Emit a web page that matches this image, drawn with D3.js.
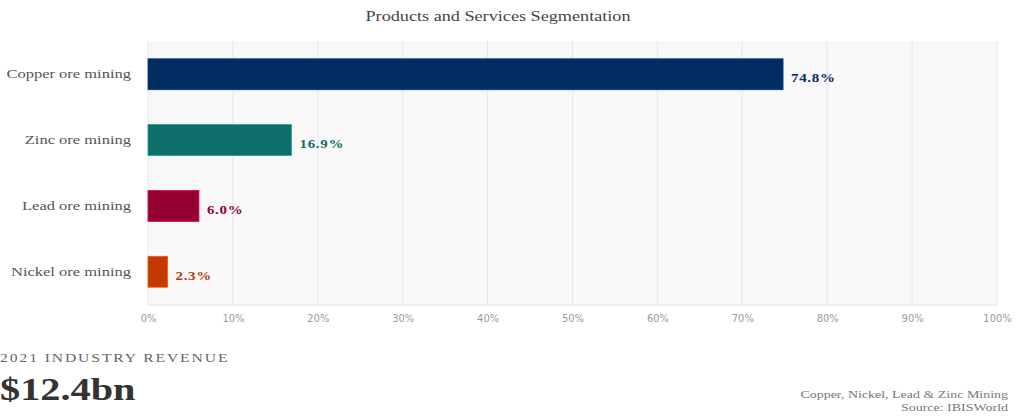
<!DOCTYPE html>
<html lang="en">
<head>
    <meta charset="UTF-8">
    <script src="https://cdn.jsdelivr.net/npm/d3@7"></script>
    <title>Products and Services Segmentation</title>
    <style>
        body { margin: 0; background: #ffffff; }
        svg { display: block; font-family: "Liberation Serif", "DejaVu Serif", serif; }
    </style>
</head>
<body>
<svg width="1016" height="417"></svg>
<script>
    const WIDTH = 1016;
    const HEIGHT = 417;
    const PLOT_LEFT = 148;
    const PLOT_RIGHT = 997;
    const PLOT_TOP = 41;
    const PLOT_BOTTOM = 305;
    const STRETCH = 1.27; // the source text is drawn horizontally wide

    const categories = ["Copper ore mining", "Zinc ore mining", "Lead ore mining", "Nickel ore mining"];
    const shares = [74.8, 16.9, 6.0, 2.3];
    const barColors = ["#002c61", "#0e6e6a", "#960030", "#c13a02"];
    const tickValues = [0, 10, 20, 30, 40, 50, 60, 70, 80, 90, 100];

    const data = categories.map((c, i) => ({ name: c, value: shares[i], color: barColors[i] }));

    const svg = d3.select("svg");

    // text placed at (tx, ty) and stretched sideways from its anchor
    function wideText(parent, tx, ty, sx) {
        return parent.append("text")
            .attr("transform", `translate(${tx}, ${ty}) scale(${sx}, 1)`);
    }

    const x = d3.scaleLinear()
        .domain([0, 100])
        .range([PLOT_LEFT, PLOT_RIGHT]);

    const y = d3.scaleBand()
        .domain(categories)
        .range([PLOT_TOP, PLOT_BOTTOM])
        .paddingInner(0.53)
        .paddingOuter(0.27);

    // title
    wideText(svg, 498, 21, 1.3)
        .attr("text-anchor", "middle")
        .style("font-size", "14px")
        .style("fill", "#444")
        .text("Products and Services Segmentation");

    // plot background
    svg.append("rect")
        .attr("x", PLOT_LEFT)
        .attr("y", PLOT_TOP)
        .attr("width", PLOT_RIGHT - PLOT_LEFT)
        .attr("height", PLOT_BOTTOM - PLOT_TOP)
        .style("fill", "#f8f8f9");

    // gridlines
    svg.append("g")
        .selectAll("line")
        .data(tickValues)
        .enter()
        .append("line")
        .attr("x1", d => x(d))
        .attr("x2", d => x(d))
        .attr("y1", PLOT_TOP)
        .attr("y2", PLOT_BOTTOM)
        .style("stroke", "#e3e6ef")
        .style("stroke-width", 1);

    svg.append("line")
        .attr("x1", PLOT_LEFT)
        .attr("x2", PLOT_RIGHT)
        .attr("y1", PLOT_BOTTOM)
        .attr("y2", PLOT_BOTTOM)
        .style("stroke", "#e3e6ef");

    // x axis labels
    const axisBottom = d3.axisBottom(x)
        .tickValues(tickValues)
        .tickFormat(d => d + "%")
        .tickSize(0)
        .tickPadding(9);

    const xAxis = svg.append("g")
        .attr("class", "axis bottom")
        .attr("transform", `translate(0, ${PLOT_BOTTOM})`)
        .call(axisBottom);
    xAxis.select(".domain").remove();
    xAxis.selectAll("text")
        .style("font-family", "'Liberation Sans Narrow', 'DejaVu Sans Condensed', sans-serif")
        .style("font-size", "11px")
        .style("fill", "#9a9a9a");

    // y axis labels
    const axisLeft = d3.axisLeft(y).tickSize(0).tickPadding(0);
    const yAxis = svg.append("g")
        .attr("class", "axis left")
        .attr("transform", `translate(${PLOT_LEFT - 17}, 0)`)
        .call(axisLeft);
    yAxis.select(".domain").remove();
    yAxis.selectAll("text")
        .attr("x", 0)
        .attr("transform", `scale(${STRETCH}, 1)`)
        .style("font-family", "'Liberation Serif', serif")
        .style("font-size", "13px")
        .style("fill", "#555");

    // bars
    svg.append("g")
        .selectAll("rect")
        .data(data)
        .enter()
        .append("rect")
        .attr("x", x(0))
        .attr("y", d => y(d.name))
        .attr("width", d => x(d.value) - x(0))
        .attr("height", y.bandwidth())
        .style("fill", d => d.color)
        .style("stroke", d => d3.color(d.color).brighter(1.2))
        .style("stroke-width", 0.8);

    // value labels
    svg.append("g")
        .selectAll("text")
        .data(data)
        .enter()
        .append("text")
        .attr("transform", d => `translate(${x(d.value) + 8}, ${y(d.name) + y.bandwidth() / 2 + 8}) scale(1.15, 1)`)
        .style("font-size", "13px")
        .style("font-weight", "bold")
        .style("letter-spacing", "0.6px")
        .style("fill", d => d.color)
        .text(d => d.value.toFixed(1) + "%");

    // revenue block
    wideText(svg, 0, 362, 1.2)
        .style("font-size", "13px")
        .style("letter-spacing", "1.6px")
        .style("fill", "#666")
        .text("2021 INDUSTRY REVENUE");

    wideText(svg, 0, 400, 1.3)
        .style("font-size", "31px")
        .style("font-weight", "bold")
        .style("fill", "#333")
        .text("$12.4bn");

    // footer
    const footer = svg.append("g")
        .attr("text-anchor", "end")
        .style("font-size", "11px")
        .style("fill", "#777");
    wideText(footer, 1008, 398, STRETCH)
        .text("Copper, Nickel, Lead & Zinc Mining");
    wideText(footer, 1008, 411, STRETCH)
        .text("Source: IBISWorld");
</script>
</body>
</html>
